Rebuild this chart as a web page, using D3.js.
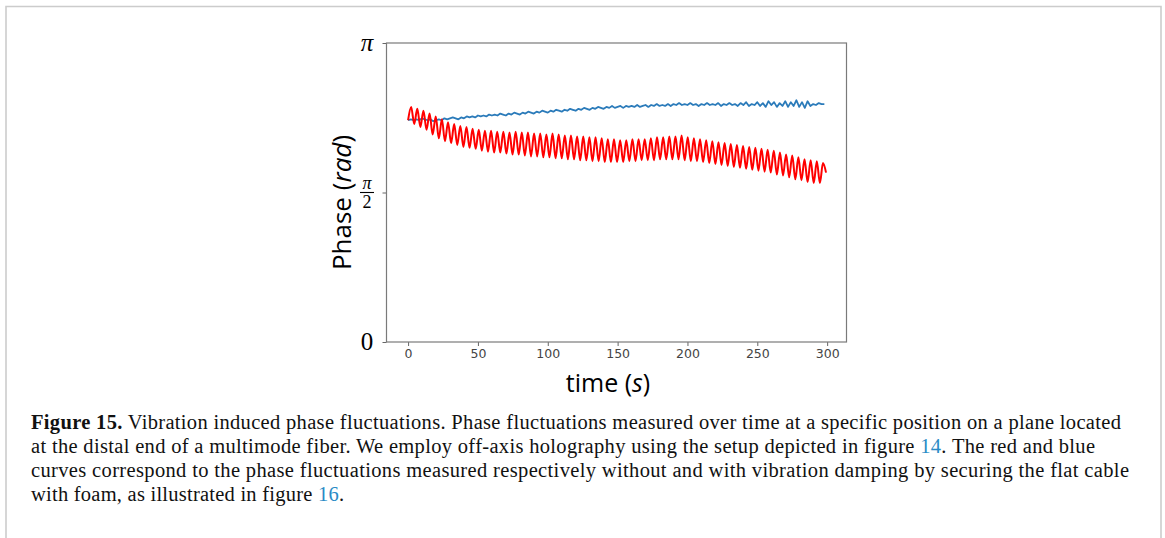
<!DOCTYPE html>
<html>
<head>
<meta charset="utf-8">
<script src="https://cdn.jsdelivr.net/npm/d3@7"></script>
<style>
html,body{margin:0;padding:0;background:#fff;}
svg{display:block;}
</style>
</head>
<body>
<svg id="chart" width="1165" height="538"></svg>
<script>
// ---------------- data ----------------
const xTicks = [0, 50, 100, 150, 200, 250, 300];
const yTickValues = [0, Math.PI / 2, Math.PI];
const yTickLabels = ["0", "π/2", "π"];

// blue: with vibration damping, sampled every 2 s
const blueDt = 2;
const blueValues = [
2.33,2.34,2.33,2.34,2.33,2.35,2.34,2.33,2.34,2.32,
2.33,2.34,2.33,2.35,2.34,2.35,2.36,2.35,2.34,2.36,
2.35,2.37,2.36,2.37,2.36,2.38,2.37,2.38,2.37,2.39,
2.38,2.39,2.38,2.40,2.39,2.38,2.40,2.39,2.41,2.40,
2.39,2.41,2.40,2.42,2.41,2.40,2.42,2.41,2.43,2.42,
2.41,2.43,2.42,2.44,2.43,2.42,2.44,2.43,2.45,2.44,
2.43,2.45,2.44,2.46,2.45,2.44,2.46,2.45,2.47,2.46,
2.45,2.47,2.46,2.48,2.46,2.47,2.48,2.46,2.48,2.47,
2.48,2.47,2.49,2.47,2.48,2.49,2.47,2.49,2.48,2.50,
2.48,2.49,2.48,2.50,2.48,2.50,2.49,2.51,2.49,2.50,
2.49,2.51,2.49,2.50,2.48,2.50,2.49,2.51,2.49,2.50,
2.49,2.51,2.48,2.50,2.49,2.51,2.49,2.50,2.48,2.51,
2.49,2.52,2.48,2.50,2.49,2.52,2.48,2.51,2.47,2.53,
2.49,2.52,2.47,2.51,2.48,2.53,2.47,2.52,2.48,2.54,
2.47,2.52,2.46,2.53,2.48,2.50,2.49,2.51,2.50,2.50
];

// red: without damping, alternating trough / crest every 2.2 s
const redDt = 2.2;
const redValues = [
2.33,2.47, 2.29,2.45, 2.26,2.43, 2.23,2.40, 2.18,2.37,
2.14,2.34, 2.11,2.31, 2.09,2.29, 2.07,2.27, 2.05,2.26,
2.04,2.24, 2.03,2.23, 2.01,2.22, 2.00,2.22, 1.99,2.21,
1.99,2.21, 1.98,2.20, 1.97,2.21, 1.97,2.20, 1.96,2.20,
1.95,2.19, 1.95,2.19, 1.94,2.18, 1.94,2.19, 1.93,2.18,
1.93,2.17, 1.92,2.17, 1.92,2.16, 1.91,2.16, 1.91,2.15,
1.90,2.15, 1.90,2.14, 1.89,2.13, 1.89,2.13, 1.89,2.12,
1.89,2.12, 1.90,2.13, 1.90,2.13, 1.91,2.13, 1.91,2.14,
1.91,2.15, 1.92,2.15, 1.92,2.16, 1.92,2.16, 1.92,2.17,
1.91,2.15, 1.90,2.14, 1.90,2.13, 1.89,2.12, 1.88,2.11,
1.87,2.10, 1.86,2.09, 1.85,2.08, 1.84,2.07, 1.83,2.06,
1.82,2.05, 1.81,2.04, 1.80,2.03, 1.79,2.02, 1.78,2.01,
1.76,1.99, 1.75,1.97, 1.73,1.96, 1.71,1.94, 1.70,1.92,
1.68,1.91, 1.67,1.90, 1.67,1.88, 1.78
];

const captionLines = [
  [{t:"Figure 15.", b:true},{t:" Vibration induced phase fluctuations. Phase fluctuations measured over time at a specific position on a plane located"}],
  [{t:"at the distal end of a multimode fiber. We employ off-axis holography using the setup depicted in figure "},{t:"14", link:true},{t:". The red and blue"}],
  [{t:"curves correspond to the phase fluctuations measured respectively without and with vibration damping by securing the flat cable"}],
  [{t:"with foam, as illustrated in figure "},{t:"16", link:true},{t:"."}]
];
const captionWidths = [1090, 1064, 1098, 313];

// ---------------- layout ----------------
const svg = d3.select("#chart");
const plot = {left: 386.5, right: 846.5, top: 43, bottom: 342};

// frame
svg.append("path")
  .attr("d", "M6,538 V6.5 H1161 V538")
  .attr("fill", "none").attr("stroke", "#cccccc").attr("stroke-width", 1.6);

const x = d3.scaleLinear().domain([-15.45, 313.85]).range([plot.left, plot.right]);
const y = d3.scaleLinear().domain([0, Math.PI]).range([plot.bottom, plot.top]);

const blue = blueValues.map((v, i) => [i * blueDt, v]);
const red = redValues.map((v, i) => [i * redDt, v]);

const g = svg.append("g");

// axes
const xAxis = d3.axisBottom(x).tickValues(xTicks).tickSize(4).tickPadding(3).tickFormat(d3.format("d"));
const gx = g.append("g").attr("transform", `translate(0,${plot.bottom})`).call(xAxis);
gx.select(".domain").remove();
gx.selectAll(".tick line").attr("stroke", "#666").attr("stroke-width", 1);
gx.selectAll(".tick text").attr("font-family", "DejaVu Sans").attr("font-size", 12.5).attr("fill", "#444");

const yAxis = d3.axisLeft(y).tickValues(yTickValues).tickSize(4).tickFormat("");
const gy = g.append("g").attr("transform", `translate(${plot.left},0)`).call(yAxis);
gy.select(".domain").remove();
gy.selectAll(".tick line").attr("stroke", "#666").attr("stroke-width", 1);

// spines
g.append("rect")
  .attr("x", plot.left).attr("y", plot.top)
  .attr("width", plot.right - plot.left).attr("height", plot.bottom - plot.top)
  .attr("fill", "none").attr("stroke", "#7a7a7a").attr("stroke-width", 1.2);

// y tick labels (math style)
yTickValues.forEach((v, i) => {
  const lab = yTickLabels[i];
  const yy = y(v);
  if (lab.includes("/")) {
    const [num, den] = lab.split("/");
    g.append("text").attr("x", 367).attr("y", yy - 4).attr("text-anchor", "middle")
      .attr("font-family", "Liberation Serif").attr("font-style", "italic").attr("font-size", 18).text(num);
    g.append("line").attr("x1", 360).attr("x2", 374).attr("y1", yy).attr("y2", yy)
      .attr("stroke", "#000").attr("stroke-width", 1.1);
    g.append("text").attr("x", 367).attr("y", yy + 15).attr("text-anchor", "middle")
      .attr("font-family", "Liberation Serif").attr("font-size", 18).text(den);
  } else {
    g.append("text").attr("x", 367).attr("y", yy + 8).attr("text-anchor", "middle")
      .attr("font-family", "Liberation Serif").attr("font-style", lab === "0" ? "normal" : "italic")
      .attr("font-size", 25).text(lab);
  }
});

// lines
g.append("path").datum(blue)
  .attr("d", d3.line().x(d => x(d[0])).y(d => y(d[1])))
  .attr("fill", "none").attr("stroke", "#2b7bba").attr("stroke-width", 1.8).attr("stroke-linejoin", "round");
g.append("path").datum(red)
  .attr("d", d3.line().x(d => x(d[0])).y(d => y(d[1])).curve(d3.curveMonotoneX))
  .attr("fill", "none").attr("stroke", "#ff0000").attr("stroke-width", 2).attr("stroke-linejoin", "round");

// axis labels
const yl = g.append("text")
  .attr("transform", `translate(351,${(plot.top + plot.bottom) / 2 + 10}) rotate(-90)`)
  .attr("text-anchor", "middle").attr("font-family", "Open Sans").attr("font-size", 26).attr("fill", "#000");
yl.append("tspan").text("Phase (");
yl.append("tspan").attr("font-style", "italic").text("rad");
yl.append("tspan").text(")");

const xl = g.append("text")
  .attr("x", 608).attr("y", 392)
  .attr("text-anchor", "middle").attr("font-family", "Open Sans").attr("font-size", 25).attr("fill", "#000");
xl.append("tspan").text("time (");
xl.append("tspan").attr("font-style", "italic").text("s");
xl.append("tspan").text(")");

// caption
const cap = svg.append("g").attr("font-family", "Liberation Serif").attr("font-size", 20.5).attr("fill", "#111");
captionLines.forEach((parts, li) => {
  const t = cap.append("text").attr("x", 31).attr("y", 429 + li * 24)
    .attr("textLength", captionWidths[li]).attr("lengthAdjust", "spacing");
  parts.forEach(p => {
    const s = t.append("tspan").text(p.t);
    if (p.b) s.attr("font-weight", "bold");
    if (p.link) s.attr("fill", "#2a8bc6");
  });
});
</script>
</body>
</html>
